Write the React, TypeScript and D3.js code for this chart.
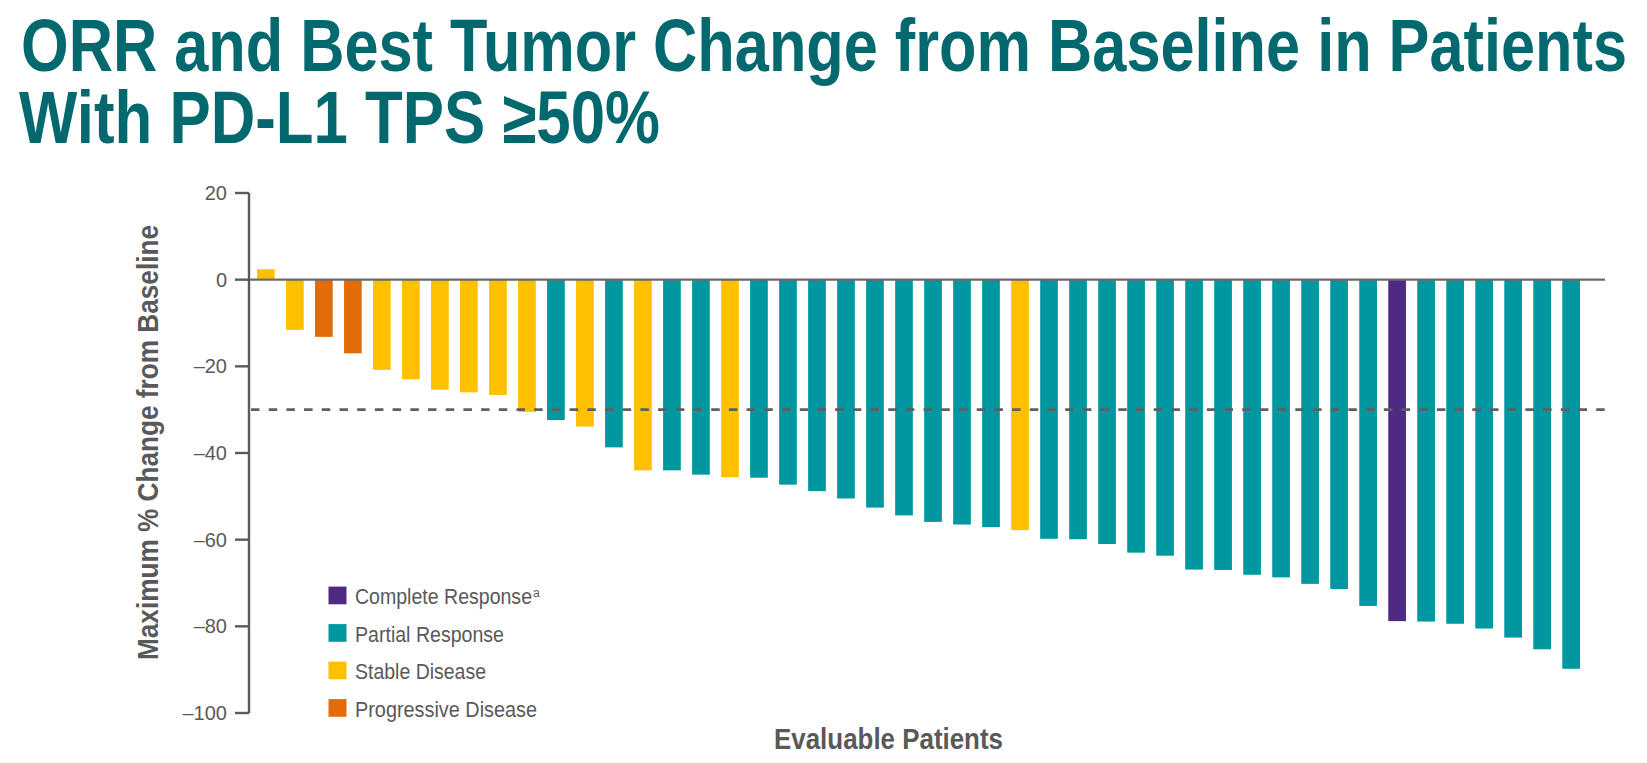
import React from 'react';
import * as d3 from 'd3';

// ---- data ----
const patientValues: number[] = [
  2.4, -11.6, -13.2, -17.0, -20.8, -23.0, -25.4, -26.0, -26.6, -30.5,
  -32.4, -33.9, -38.7, -44.0, -44.0, -45.0, -45.6, -45.7, -47.3, -48.8,
  -50.5, -52.6, -54.4, -55.9, -56.5, -57.1, -57.8, -59.8, -59.9, -61.0,
  -63.0, -63.7, -66.9, -67.0, -68.1, -68.7, -70.2, -71.4, -75.3, -78.8,
  -78.9, -79.4, -80.5, -82.6, -85.3, -89.8,
];
const patientResponses: string[] = [
  'SD', 'SD', 'PD', 'PD', 'SD', 'SD', 'SD', 'SD', 'SD', 'SD',
  'PR', 'SD', 'PR', 'SD', 'PR', 'PR', 'SD', 'PR', 'PR', 'PR',
  'PR', 'PR', 'PR', 'PR', 'PR', 'PR', 'SD', 'PR', 'PR', 'PR',
  'PR', 'PR', 'PR', 'PR', 'PR', 'PR', 'PR', 'PR', 'PR', 'CR',
  'PR', 'PR', 'PR', 'PR', 'PR', 'PR',
];
const responseKeys: string[] = ['CR', 'PR', 'SD', 'PD'];
const responseLabels: string[] = ['Complete Response', 'Partial Response', 'Stable Disease', 'Progressive Disease'];
const responseColors: string[] = ['#4f2a82', '#0098a0', '#ffc000', '#e36c0a'];
const yTicks: number[] = [20, 0, -20, -40, -60, -80, -100];
const thresholdValue = -30;
const titleLines: string[] = ['ORR and Best Tumor Change from Baseline in Patients', 'With PD-L1 TPS \u226550%'];
const yAxisTitle = 'Maximum % Change from Baseline';
const xAxisTitle = 'Evaluable Patients';

const W = 1647;
const H = 763;
const FONT = '"Liberation Sans", Arial, Helvetica, sans-serif';
const AXIS_TEXT = '#595959';

export default function App() {
  const y = d3.scaleLinear().domain([-100, 20]).range([713, 193]);
  const x = d3
    .scaleBand<number>()
    .domain(d3.range(patientValues.length))
    .range([249, 1588])
    .paddingInner(0.39)
    .paddingOuter(0.276);
  const color = d3.scaleOrdinal<string, string>().domain(responseKeys).range(responseColors);
  const axisX = 249;
  const lineEnd = 1605;
  const fmt = (d: number) => (d < 0 ? `\u2013${Math.abs(d)}` : `${d}`);

  return (
    <svg
      width={W}
      height={H}
      viewBox={`0 0 ${W} ${H}`}
      style={{ position: 'absolute', left: 0, top: 0, background: '#ffffff' }}
      fontFamily={FONT}
    >
      <rect x={0} y={0} width={W} height={H} fill="#ffffff" />
      {/* title */}
      <text x={21} y={71} fontSize={74} fontWeight="bold" fill="#03696e" textLength={1606} lengthAdjust="spacingAndGlyphs">
        {titleLines[0]}
      </text>
      <text x={19} y={142.7} fontSize={74} fontWeight="bold" fill="#03696e" textLength={641} lengthAdjust="spacingAndGlyphs">
        {titleLines[1]}
      </text>

      {/* bars */}
      {patientValues.map((v, i) => (
        <rect
          key={i}
          x={x(i)}
          y={y(Math.max(0, v))}
          width={x.bandwidth()}
          height={Math.abs(y(v) - y(0))}
          fill={color(patientResponses[i])}
        />
      ))}

      {/* zero line */}
      <line x1={axisX} x2={lineEnd} y1={y(0)} y2={y(0)} stroke="#6a6a6a" strokeWidth={2.4} />
      {/* threshold dashed line */}
      <line
        x1={axisX + 2}
        x2={lineEnd}
        y1={y(thresholdValue)}
        y2={y(thresholdValue)}
        stroke="#5f5f5f"
        strokeWidth={2.8}
        strokeDasharray="8.5 9.2"
      />

      {/* y axis */}
      <line x1={axisX} x2={axisX} y1={y(20)} y2={y(-100)} stroke="#5a5a5a" strokeWidth={2.4} />
      {yTicks.map((t) => (
        <g key={t}>
          <line x1={235} x2={axisX} y1={y(t)} y2={y(t)} stroke="#5a5a5a" strokeWidth={2.4} />
          <text x={227} y={y(t)} dy="0.35em" textAnchor="end" fontSize={20} fill={AXIS_TEXT}>
            {fmt(t)}
          </text>
        </g>
      ))}

      {/* y axis title */}
      <text
        transform={`translate(158, 442.5) rotate(-90)`}
        textAnchor="middle"
        fontSize={29}
        fontWeight="bold"
        fill={AXIS_TEXT}
        textLength={435}
        lengthAdjust="spacingAndGlyphs"
      >
        {yAxisTitle}
      </text>

      {/* x axis title */}
      <text
        x={888.5}
        y={749.3}
        textAnchor="middle"
        fontSize={29}
        fontWeight="bold"
        fill={AXIS_TEXT}
        textLength={229}
        lengthAdjust="spacingAndGlyphs"
      >
        {xAxisTitle}
      </text>

      {/* legend */}
      {responseKeys.map((k, i) => {
        const baseY = 604.3 + i * 37.5;
        const labelLen = [177, 149, 131, 182][i];
        return (
          <g key={k}>
            <rect x={328.5} y={baseY - 17.7} width={18} height={17.7} fill={responseColors[i]} />
            <text
              x={355}
              y={baseY}
              fontSize={22}
              fill={AXIS_TEXT}
              textLength={labelLen}
              lengthAdjust="spacingAndGlyphs"
            >
              {responseLabels[i]}
            </text>
            {i === 0 && (
              <text x={533} y={baseY - 7.5} fontSize={12} fill={AXIS_TEXT}>
                a
              </text>
            )}
          </g>
        );
      })}
    </svg>
  );
}
